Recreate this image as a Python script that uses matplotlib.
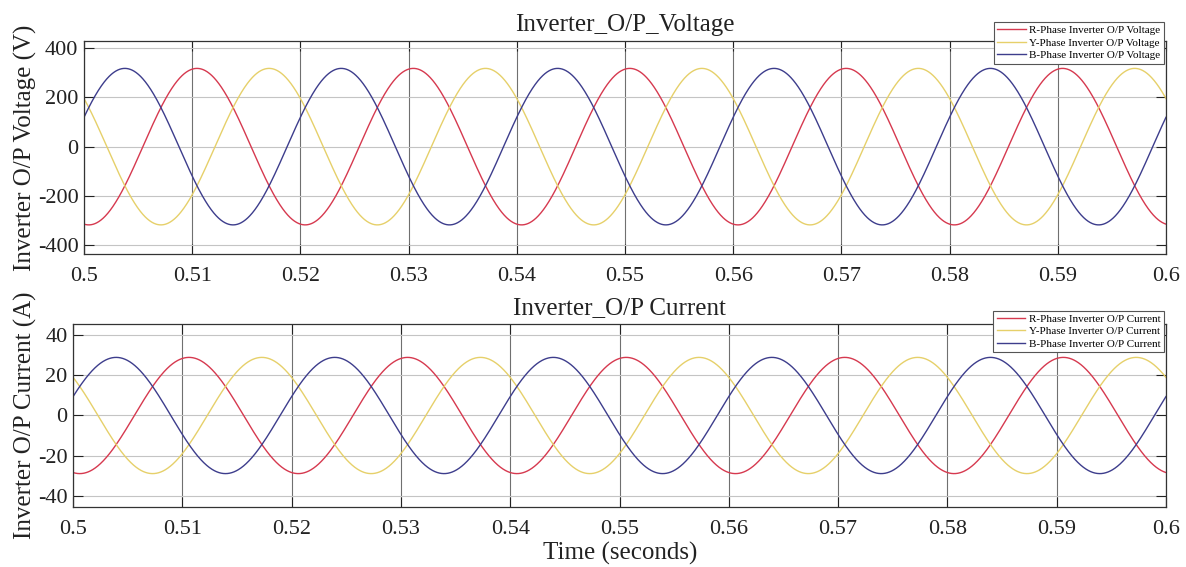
import numpy as np
import matplotlib
matplotlib.use('Agg')
from matplotlib import pyplot as plt

plt.rcParams['font.family'] = ['Liberation Serif', 'DejaVu Serif']
plt.rcParams['axes.unicode_minus'] = False

# waveform parameters (50 Hz, 3-phase)
freq_hz = 50
t_start, t_end = 0.5, 0.6
phase_names = ['R', 'Y', 'B']
v_peak = 317.0
v_phase_deg = [-98, 142, 22]
i_peak = 28.7
i_phase_deg = [-101, 139, 19]

line_colors = ['#d6394f', '#e6d06a', '#3d3d8c']
xticks = [0.5, 0.51, 0.52, 0.53, 0.54, 0.55, 0.56, 0.57, 0.58, 0.59, 0.6]
xtick_labels = ['0.5', '0.51', '0.52', '0.53', '0.54', '0.55', '0.56', '0.57', '0.58', '0.59', '0.6']
v_ticks = [-400, -200, 0, 200, 400]
i_ticks = [-40, -20, 0, 20, 40]

t = np.linspace(t_start, t_end, 3001)
w = 2 * np.pi * freq_hz

fig = plt.figure(figsize=(11.86, 5.67), dpi=100)
ax1 = fig.add_axes([0.0708, 0.552, 0.9123, 0.3757])
ax2 = fig.add_axes([0.0616, 0.1058, 0.9215, 0.3228])


def style(ax, yticks, ylim):
    ax.set_xlim(t_start, t_end)
    ax.set_ylim(*ylim)
    ax.set_xticks(xticks)
    ax.set_xticklabels(xtick_labels)
    ax.set_yticks(yticks)
    ax.tick_params(direction='in', length=7, width=0.8, top=True, right=True,
                   labelsize=16, colors='#222222')
    ax.tick_params(axis='x', pad=9)
    ax.tick_params(axis='y', pad=4)
    ax.grid(axis='x', color='#707070', lw=0.8)
    ax.grid(axis='y', color='#c4c4c4', lw=0.8)
    ax.set_axisbelow(True)
    for s in ax.spines.values():
        s.set_color('#333333')
        s.set_linewidth(0.9)


for name, ph, c in zip(phase_names, v_phase_deg, line_colors):
    ax1.plot(t, v_peak * np.sin(w * (t - t_start) + np.deg2rad(ph)), color=c, lw=1.0,
             label=name + '-Phase Inverter O/P Voltage')
for name, ph, c in zip(phase_names, i_phase_deg, line_colors):
    ax2.plot(t, i_peak * np.sin(w * (t - t_start) + np.deg2rad(ph)), color=c, lw=1.0,
             label=name + '-Phase Inverter O/P Current')

style(ax1, v_ticks, (-435, 428))
style(ax2, i_ticks, (-45.2, 45.2))

ax1.set_title('Inverter_O/P_Voltage', fontsize=18, pad=7, color='#222222')
ax2.set_title('Inverter_O/P Current', fontsize=18, pad=7, color='#222222')
ax1.set_ylabel('Inverter O/P Voltage (V)', fontsize=18, color='#222222')
ax2.set_ylabel('Inverter O/P Current (A)', fontsize=18, color='#222222')
ax1.yaxis.set_label_coords(-0.0434, 0.5)
ax2.yaxis.set_label_coords(-0.033, 0.5)
fig.text(0.523, 0.024, 'Time (seconds)', fontsize=18, ha='center', va='center', color='#222222')

for ax, anchor in [(ax1, (0.998, 1.089)), (ax2, (0.998, 1.073))]:
    leg = ax.legend(loc='upper right', bbox_to_anchor=anchor, borderaxespad=0,
                    fontsize=8, handlelength=2.6, handletextpad=0.3, borderpad=0.3,
                    labelspacing=0.25, fancybox=False, framealpha=1, edgecolor='#555555')
    leg.get_frame().set_linewidth(0.8)

fig.savefig('out.png', dpi=100)
